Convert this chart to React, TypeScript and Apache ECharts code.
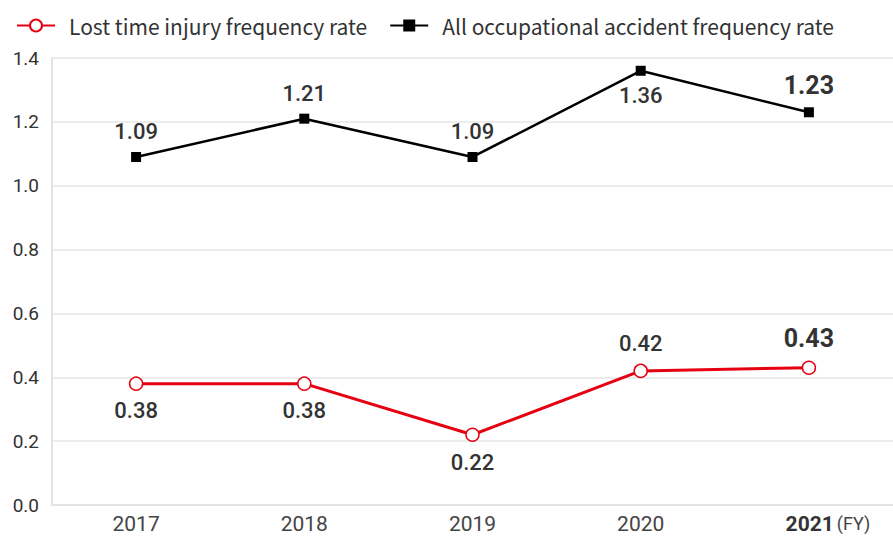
import React, { useEffect, useRef } from "react";
import * as echarts from "echarts";

const categories = ["2017", "2018", "2019", "2020", "2021"];
const lostTimeRate = [0.38, 0.38, 0.22, 0.42, 0.43];
const allAccidentRate = [1.09, 1.21, 1.09, 1.36, 1.23];
const lostLabelPos = ["bottom", "bottom", "bottom", "top", "top"];
const allLabelPos = ["top", "top", "top", "bottom", "top"];
const seriesNames = ["Lost time injury frequency rate", "All occupational accident frequency rate"];

export default function App() {
  const ref = useRef<HTMLDivElement>(null);
  useEffect(() => {
    const chart = echarts.init(ref.current!, null, { renderer: "svg" });
    const font = "Roboto, 'Noto Sans', sans-serif";
    const mkData = (vals: number[], pos: string[]) =>
      vals.map((v, i) => {
        const last = i === vals.length - 1;
        return {
          value: v,
          label: {
            position: pos[i],
            distance: 9,
            fontSize: last ? 25 : 22,
            fontWeight: last ? "bold" : 500,
          },
        };
      });
    chart.setOption({
      animation: false,
      textStyle: { fontFamily: font },
      legend: {
        left: 11,
        top: 10,
        itemWidth: 38,
        itemHeight: 15,
        itemGap: 22,
        textStyle: {
          fontSize: 21,
          color: "#333",
          fontFamily: "'Noto Sans CJK JP', 'Noto Sans', sans-serif",
          padding: [0, 0, 0, 9],
        },
        data: seriesNames,
      },
      grid: { left: 52, right: -3, top: 58, bottom: 35 },
      xAxis: {
        type: "category",
        data: categories,
        boundaryGap: true,
        axisLine: { show: true, lineStyle: { color: "#e2e2e2", width: 2 } },
        axisTick: { show: false },
        axisLabel: {
          interval: 0,
          hideOverlap: false,
          fontSize: 21,
          color: "#444",
          margin: 8,
          formatter: (v: string, i: number) =>
            i === categories.length - 1 ? `{b|${v}}{s|(FY)}` : v,
          rich: {
            b: { fontSize: 21, fontWeight: "bold", color: "#333", fontFamily: font, padding: [0, 0, 0, 38] },
            s: { fontSize: 18, color: "#444", fontFamily: font, padding: [0, 0, 0, 3] },
          },
        },
      },
      yAxis: {
        type: "value",
        min: 0,
        max: 1.4,
        interval: 0.2,
        axisLine: { show: true, lineStyle: { color: "#e2e2e2", width: 2 } },
        axisTick: { show: false },
        splitLine: { lineStyle: { color: "#e6e6e6", width: 1.5 } },
        axisLabel: {
          fontSize: 19,
          color: "#333",
          margin: 13,
          formatter: (v: number) => v.toFixed(1),
        },
      },
      series: [
        {
          name: seriesNames[0],
          type: "line",
          data: mkData(lostTimeRate, lostLabelPos),
          symbol: "circle",
          symbolSize: 13,
          lineStyle: { color: "#e60012", width: 3 },
          itemStyle: { color: "#fff", borderColor: "#e60012", borderWidth: 1.5 },
          label: { show: true, color: "#333", fontFamily: font, formatter: (p: any) => p.value.toFixed(2) },
          z: 3,
        },
        {
          name: seriesNames[1],
          type: "line",
          data: mkData(allAccidentRate, allLabelPos),
          symbol: "rect",
          symbolSize: 10,
          lineStyle: { color: "#000", width: 2.5 },
          itemStyle: { color: "#000" },
          label: { show: true, color: "#333", fontFamily: font, formatter: (p: any) => p.value.toFixed(2) },
          z: 3,
        },
      ],
    });
    return () => chart.dispose();
  }, []);
  return <div ref={ref} style={{ width: 893, height: 540, position: "absolute", left: 0, top: 0 }} />;
}
